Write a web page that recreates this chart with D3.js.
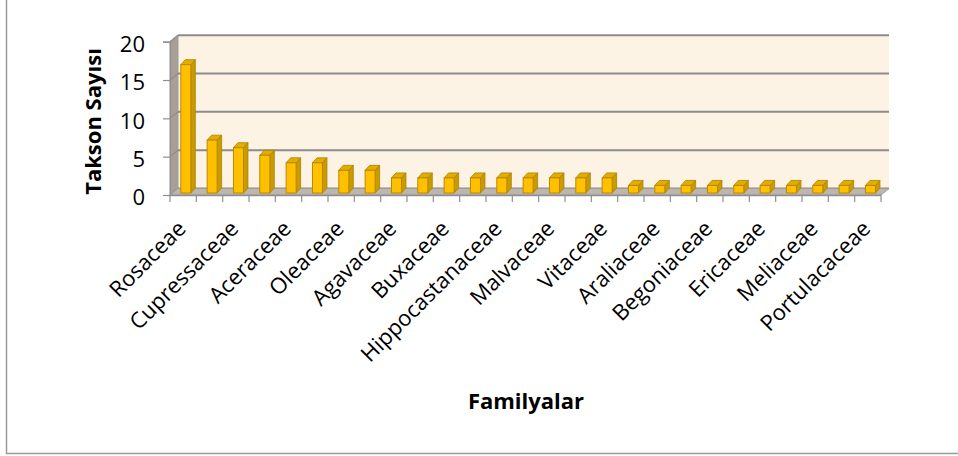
<!DOCTYPE html>
<html>
<head>
<meta charset="utf-8">
<script src="https://cdn.jsdelivr.net/npm/d3@7"></script>
<style>
    body { margin: 0; background: #fff; }
    svg { display: block; font-family: "Open Sans", sans-serif; }
</style>
</head>
<body>
<svg width="958" height="456"></svg>
<script>
// 27 families; only every other name is printed on the axis in the original
var families = [
    'Rosaceae', null, 'Cupressaceae', null, 'Aceraceae', null, 'Oleaceae', null,
    'Agavaceae', null, 'Buxaceae', null, 'Hippocastanaceae', null, 'Malvaceae', null,
    'Vitaceae', null, 'Araliaceae', null, 'Begoniaceae', null, 'Ericaceae', null,
    'Meliaceae', null, 'Portulacaceae'
];
var taxonCounts = [17, 7, 6, 5, 4, 4, 3, 3, 2, 2, 2, 2, 2, 2, 2, 2, 2, 1, 1, 1, 1, 1, 1, 1, 1, 1, 1];
var yTicks = [0, 5, 10, 15, 20];
var yTitle = 'Takson Sayısı',
    xTitle = 'Familyalar';

var svg = d3.select('svg'),
    depth = { x: 8, y: -6.5 },
    barDepth = { x: 4.5, y: -5 };

var x = d3.scaleBand()
    .domain(d3.range(families.length))
    .range([170, 881])
    .paddingInner(0);

// front plane of the 3d box
var y = d3.scaleLinear().domain([0, 20]).range([195, 41.7]);
// bars stand a bit further back
var yBar = d3.scaleLinear().domain([0, 20]).range([193, 42]);

var x0 = x.range()[0],
    x1 = x.range()[1];

function pts(arr) {
    return arr.map(function (p) { return p.join(','); }).join(' ');
}

// outer frame
svg.append('rect')
    .attr('x', 6.5).attr('y', -2)
    .attr('width', 970).attr('height', 455.5)
    .attr('fill', 'none')
    .attr('stroke', '#9a9a9a')
    .attr('stroke-width', 1.5);

// back wall
svg.append('rect')
    .attr('x', x0 + depth.x)
    .attr('y', y(20) + depth.y)
    .attr('width', x1 - x0)
    .attr('height', y(0) - y(20))
    .attr('fill', '#fdf3e4');

// side wall
svg.append('polygon')
    .attr('points', pts([
        [x0, y(20)], [x0 + depth.x, y(20) + depth.y],
        [x0 + depth.x, y(0) + depth.y], [x0, y(0)]
    ]))
    .attr('fill', '#a89f97')
    .attr('stroke', '#9b9b9b')
    .attr('stroke-width', 1);

// grid lines on back and side wall
var grid = svg.append('g');
yTicks.forEach(function (t) {
    grid.append('line')
        .attr('x1', x0 + depth.x).attr('x2', x1 + depth.x)
        .attr('y1', y(t) + depth.y).attr('y2', y(t) + depth.y)
        .attr('stroke', '#8c8c8c')
        .attr('stroke-width', 2);
    grid.append('line')
        .attr('x1', x0).attr('x2', x0 + depth.x)
        .attr('y1', y(t)).attr('y2', y(t) + depth.y)
        .attr('stroke', '#8c8c8c')
        .attr('stroke-width', 1.2);
});

// floor
svg.append('polygon')
    .attr('points', pts([
        [x0, y(0)], [x0 + depth.x, y(0) + depth.y],
        [x1 + depth.x, y(0) + depth.y], [x1, y(0)]
    ]))
    .attr('fill', '#bdb6af')
    .attr('stroke', '#a09a95')
    .attr('stroke-width', 1);

svg.append('line')
    .attr('x1', x0).attr('x2', x1)
    .attr('y1', y(0) + 0.5).attr('y2', y(0) + 0.5)
    .attr('stroke', '#8f8f8f')
    .attr('stroke-width', 1.5);

// category ticks
svg.append('g')
    .selectAll('line')
    .data(d3.range(families.length + 1))
    .enter().append('line')
    .attr('x1', function (i) { return x0 + i * x.step(); })
    .attr('x2', function (i) { return x0 + i * x.step(); })
    .attr('y1', y(0))
    .attr('y2', y(0) + 7)
    .attr('stroke', '#8f8f8f')
    .attr('stroke-width', 1.2);

// value axis
var yAxis = svg.append('g')
    .attr('transform', 'translate(' + x0 + ',0)')
    .call(d3.axisLeft(y).tickValues(yTicks).tickSize(7).tickPadding(18));
yAxis.select('.domain')
    .attr('stroke', '#8f8f8f')
    .attr('stroke-width', 1.2);
yAxis.selectAll('.tick line')
    .attr('stroke', '#8f8f8f')
    .attr('stroke-width', 1.2);
yAxis.selectAll('.tick text')
    .attr('font-family', '"Open Sans", sans-serif')
    .attr('font-size', 22)
    .attr('dy', '0.45em')
    .attr('fill', '#000');

// bars
var bars = svg.append('g')
    .selectAll('g')
    .data(taxonCounts)
    .enter().append('g');

function barLeft(d, i) { return x(i) + 10.8; }
var barW = 10;

bars.append('polygon')  // side
    .attr('points', function (d, i) {
        var l = barLeft(d, i) + barW;
        return pts([
            [l, yBar(d)], [l + barDepth.x, yBar(d) + barDepth.y],
            [l + barDepth.x, yBar(0) + barDepth.y], [l, yBar(0)]
        ]);
    })
    .attr('fill', '#c99b00')
    .attr('stroke', '#a98200')
    .attr('stroke-width', 0.8);

bars.append('polygon')  // top
    .attr('points', function (d, i) {
        var l = barLeft(d, i);
        return pts([
            [l, yBar(d)], [l + barDepth.x, yBar(d) + barDepth.y],
            [l + barW + barDepth.x, yBar(d) + barDepth.y], [l + barW, yBar(d)]
        ]);
    })
    .attr('fill', '#e3ac00')
    .attr('stroke', '#a98200')
    .attr('stroke-width', 0.8);

bars.append('rect')  // front
    .attr('x', barLeft)
    .attr('y', function (d) { return yBar(d); })
    .attr('width', barW)
    .attr('height', function (d) { return yBar(0) - yBar(d); })
    .attr('fill', '#ffc000')
    .attr('stroke', '#b88a00')
    .attr('stroke-width', 1);

// category labels
svg.append('g')
    .selectAll('text')
    .data(families.map(function (name, i) { return { name: name, i: i }; })
        .filter(function (d) { return d.name !== null; }))
    .enter().append('text')
    .attr('transform', function (d) {
        var cx = x(d.i) + x.bandwidth() / 2;
        return 'translate(' + (cx + 4) + ',' + 230 + ') rotate(-45)';
    })
    .attr('text-anchor', 'end')
    .attr('font-size', 22)
    .attr('fill', '#000')
    .text(function (d) { return d.name; });

// axis titles
svg.append('text')
    .attr('transform', 'translate(101,121.5) rotate(-90)')
    .attr('text-anchor', 'middle')
    .attr('font-size', 22)
    .attr('font-weight', 'bold')
    .text(yTitle);

svg.append('text')
    .attr('x', 526)
    .attr('y', 409)
    .attr('text-anchor', 'middle')
    .attr('font-size', 22)
    .attr('font-weight', 'bold')
    .text(xTitle);
</script>
</body>
</html>
